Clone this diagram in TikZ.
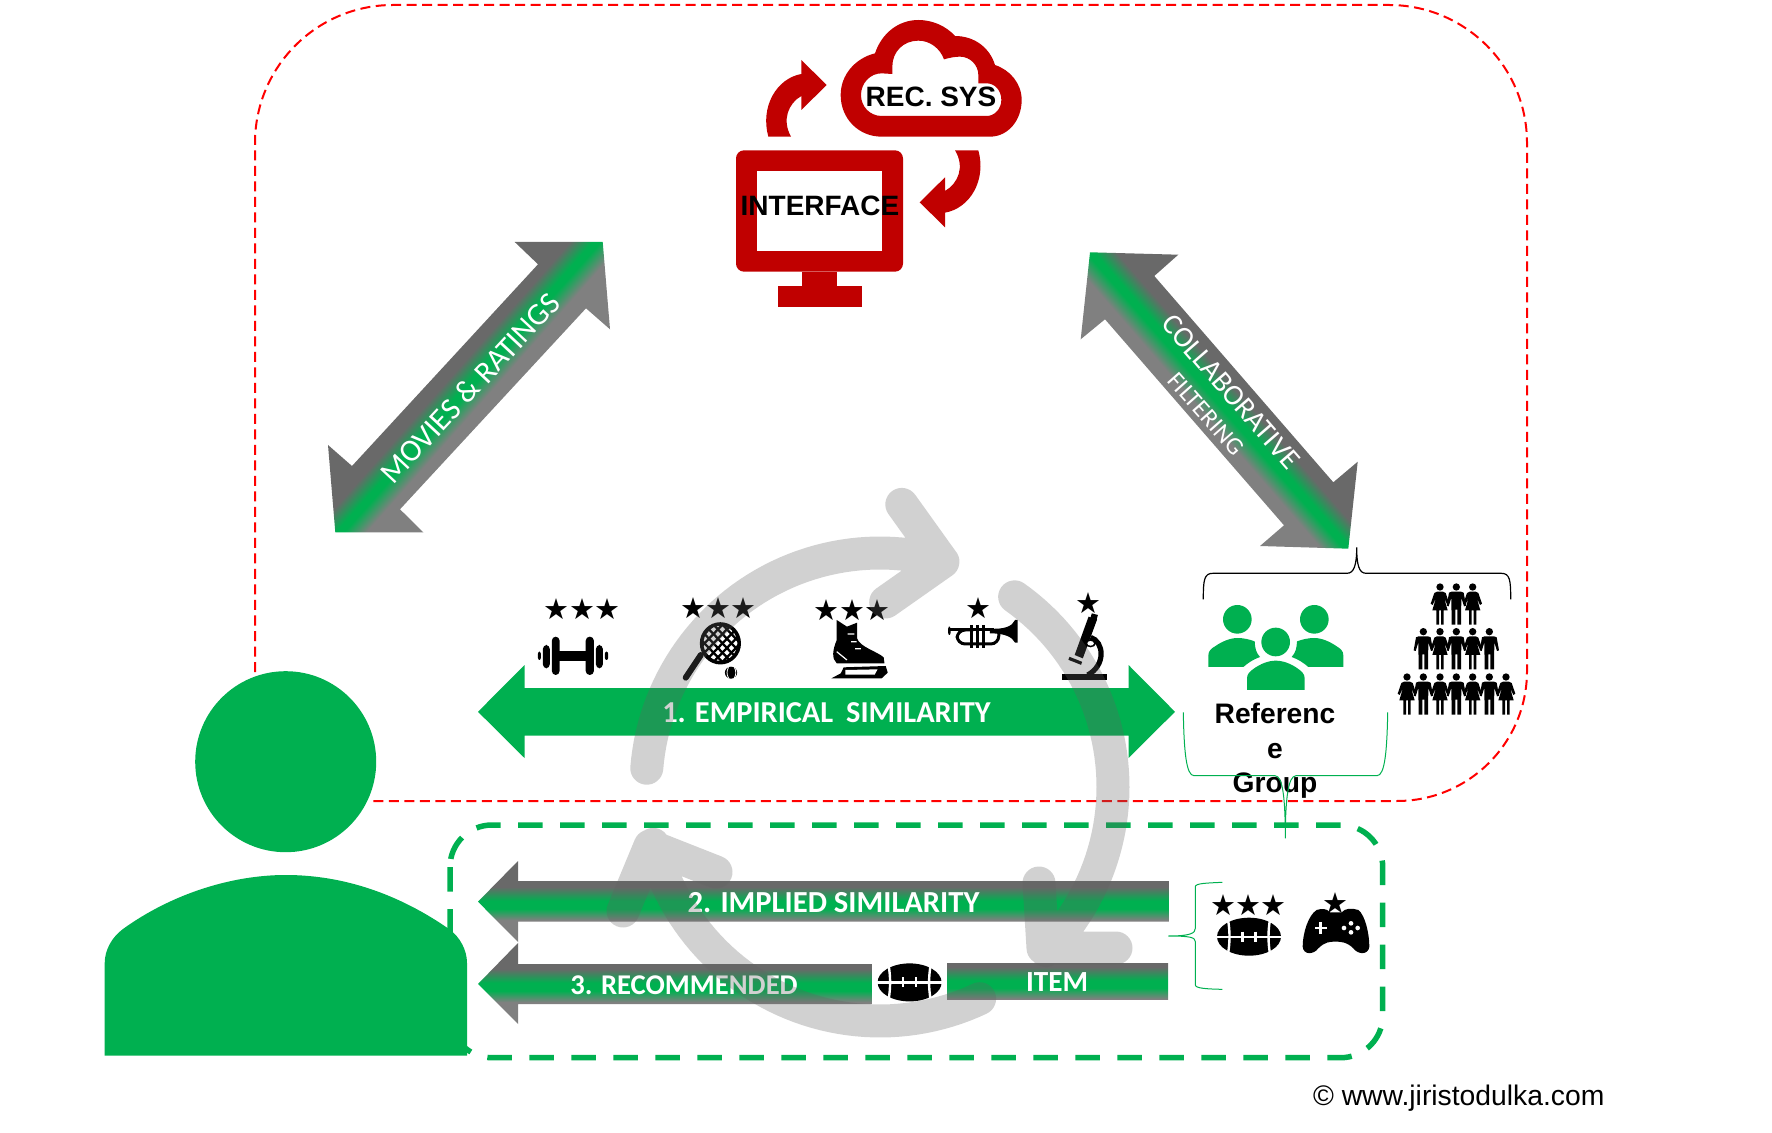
\documentclass[tikz,border=0pt]{standalone}
\usepackage{fontspec}
\setmainfont{Liberation Sans}
\newfontfamily\carlito{Carlito}
\newfontfamily\starf[LetterSpace=-3]{DejaVu Sans}
\definecolor{gg}{HTML}{00B050}
\definecolor{gd}{HTML}{696969}
\definecolor{gl}{HTML}{808080}
\definecolor{rd}{HTML}{C00000}
\definecolor{ringgray}{HTML}{626262}
\pgfdeclareverticalshading{armgrad}{100bp}{color(0bp)=(gl); color(38.5bp)=(gl); color(45.5bp)=(gg); color(50.5bp)=(gg); color(59bp)=(gd); color(100bp)=(gd)}
\pgfdeclareverticalshading{diaggrad}{100bp}{color(0bp)=(gl); color(47.5bp)=(gl); color(49.6bp)=(gg); color(50.4bp)=(gg); color(52.5bp)=(gd); color(100bp)=(gd)}
\tikzset{
  ringarrow/.style={draw=ringgray,draw opacity=.29,line width=16.5pt,line cap=round,line join=round},
  redline/.style={draw=red,line width=1pt,dash pattern=on 5pt off 2.75pt},
  greenline/.style={draw=gg,line width=2.75pt,dash pattern=on 12.25pt off 8.75pt},
  thinbrace/.style={draw=gg,line width=.5pt},
  barlabel/.style={text=white,font=\carlito\bfseries\fontsize{14.6}{16}\selectfont,inner sep=0pt},
  diaglabel/.style={text=white,inner sep=0pt},
  startext/.style={font=\starf\fontsize{14.5}{16}\selectfont,inner sep=0pt},
  boldlabel/.style={font=\bfseries\fontsize{14}{16}\selectfont,inner sep=0pt}
}
% people, in 3x-zoom units, origin at the head centre
\newcommand\manfig[2]{\begin{scope}[shift={(#1,#2)}]
 \fill (0,0) circle[radius=11];
 \fill (-14,14) -- (14,14) -- (22,17) -- (29,56) -- (23,58) -- (15,32) -- (14,113) -- (3,113) -- (3,68) -- (-3,68) -- (-3,113) -- (-14,113) -- (-15,32) -- (-23,58) -- (-29,56) -- (-22,17) -- cycle;
\end{scope}}
\newcommand\womanfig[2]{\begin{scope}[shift={(#1,#2)}]
 \fill (0,0) circle[radius=11];
 \fill (-9,14) -- (9,14) -- (17,18) -- (28,50) -- (22,54) -- (12,32) -- (23,70) -- (11,70) -- (11,113) -- (3,113) -- (3,70) -- (-3,70) -- (-3,113) -- (-11,113) -- (-11,70) -- (-23,70) -- (-12,32) -- (-22,54) -- (-28,50) -- (-17,18) -- cycle;
\end{scope}}
\newcommand\footballfig[2]{\begin{scope}[shift={(#1,#2)}]
 \fill (0,0) ellipse[x radius=32,y radius=19];
 \draw[white,line width=1.2pt] (-33,0) -- (33,0);
 \draw[white,line width=1.2pt] (-21,-17) .. controls (-19,-6) and (-19,6) .. (-21,17);
 \draw[white,line width=1.2pt] (21,-17) .. controls (19,-6) and (19,6) .. (21,17);
 \draw[white,line width=1.2pt] (-6.5,-5) -- (-6.5,5) (6.5,-5) -- (6.5,5);
\end{scope}}
\begin{document}
\begin{tikzpicture}[x=0.5pt,y=-0.5pt]
\useasboundingbox (0,0) rectangle (1772,1133);
% red dashed frame
\draw[redline,rounded corners=69pt] (255,672) -- (255,5) -- (1527,5) [rounded corners=65pt] -- (1527,801) [sharp corners] -- (368,801);
% diagonal arrows
\begin{scope}
 \clip (602.7,242) -- (610,329.3) -- (586,308.3) -- (400,509.3) -- (423.3,532.3) -- (335.3,532.3) -- (328,445) -- (352,466) -- (538,264.3) -- (514.7,242) -- cycle;
 \begin{scope}[transform canvas={shift={(468,387)},rotate=48.5}]
  \shade[shading=diaggrad] (-400,-200) rectangle (400,200);
 \end{scope}
\end{scope}
\begin{scope}
 \clip (1090,252.3) -- (1178.3,254.7) -- (1154.3,276) -- (1333.3,482.3) -- (1357.7,461.7) -- (1348.3,548.7) -- (1260,546) -- (1284,525.3) -- (1105,319.3) -- (1080.7,339.3) -- cycle;
 \begin{scope}[transform canvas={shift={(1219,400.7)},rotate=-49}]
  \shade[shading=diaggrad] (-400,-200) rectangle (400,200);
 \end{scope}
\end{scope}
\node[diaglabel,rotate=47,font=\carlito\fontsize{15.6}{18}\selectfont] (movies) at (470,388) {MOVIES \& RATINGS};
\node[diaglabel,rotate=-49,font=\carlito\fontsize{14.6}{17}\selectfont] (collab) at (1231,392) {COLLABORATIVE};
\node[diaglabel,rotate=-48.5,font=\carlito\fontsize{12.4}{14}\selectfont] (filt) at (1206,414) {FILTERING};
% monitor, cloud, red arrows (units: zoom of the top crop)
\begin{scope}[shift={(640,0)},scale=1/3]
 \fill[rd,even odd rule,rounded corners=4pt] (288,451) rectangle (789,815);
 \fill[white] (351,514) rectangle (727,753);
 \fill[rd] (487,815) rectangle (591,858);
 \fill[rd] (414,858) rectangle (665,920);
 \fill[rd,even odd rule] (725,410) -- (1050,410) .. controls (1105,410) and (1145,360) .. (1145,300) .. controls (1145,250) and (1110,210) .. (1065,195) .. controls (1050,145) and (1005,108) .. (945,108) .. controls (920,80) and (880,60) .. (835,60) .. controls (775,60) and (725,100) .. (705,160) .. controls (645,175) and (602,225) .. (602,285) .. controls (602,355) and (655,410) .. (725,410) -- cycle
 (725,348) -- (1040,348) .. controls (1065,348) and (1084,325) .. (1084,300) .. controls (1084,272) and (1065,250) .. (1040,250) -- (1015,250) -- (1015,225) .. controls (1015,195) and (990,170) .. (960,170) .. controls (945,170) and (930,173) .. (912,178) .. controls (900,145) and (870,122) .. (835,122) .. controls (790,122) and (757,155) .. (757,200) -- (757,222) -- (725,220) .. controls (690,220) and (663,250) .. (663,285) .. controls (663,320) and (690,348) .. (725,348) -- cycle;
 \fill[rd] (385,410) .. controls (360,320) and (410,235) .. (484,222) -- (484,180) -- (560,255) -- (484,330) -- (484,288) .. controls (445,310) and (425,360) .. (453,410) -- cycle;
 \fill[rd] (1015,451) .. controls (1040,540) and (990,625) .. (915,638) -- (915,682) -- (839,607) -- (915,532) -- (915,573) .. controls (955,550) and (975,500) .. (945,451) -- cycle;
\end{scope}
\node[boldlabel] (recsys) at (931,97) {REC. SYS};
\node[boldlabel] (iface) at (820,206) {INTERFACE};
% black brace
\draw[black,line width=.6pt] (1203.3,599.3) .. controls (1203.3,580) and (1204,573.3) .. (1213,573.3) -- (1347,573.3) .. controls (1354,573.3) and (1356.7,565) .. (1356.7,547.3) .. controls (1356.7,565) and (1359,573.3) .. (1366,573.3) -- (1501,573.3) .. controls (1510,573.3) and (1510.7,580) .. (1510.7,599.3);
% green group icon
\begin{scope}[shift={(1170,530)},scale=1/3]
 \fill[gg] (202,268) circle[radius=43];
 \fill[gg] (433,268) circle[radius=43];
 \fill[gg] (317,336) circle[radius=43];
 \fill[gg] (231,480) -- (231,445) .. controls (231,432) and (240,424) .. (250,417) .. controls (270,402) and (295,392) .. (317,392) .. controls (340,392) and (365,402) .. (385,417) .. controls (395,424) and (404,432) .. (404,445) -- (404,480) -- cycle;
 \fill[gg] (115,411) -- (115,376) .. controls (115,362) and (125,355) .. (135,349) .. controls (155,335) and (180,324) .. (202,324) .. controls (220,324) and (238,328) .. (254,334) .. controls (255,355) and (258,368) .. (270,381) .. controls (250,388) and (235,398) .. (220,411) -- cycle;
 \fill[gg] (520,411) -- (520,376) .. controls (520,362) and (510,355) .. (500,349) .. controls (480,335) and (455,324) .. (433,324) .. controls (415,324) and (397,328) .. (381,334) .. controls (380,355) and (377,368) .. (365,381) .. controls (385,388) and (400,398) .. (415,411) -- cycle;
 % people pyramid
 \womanfig{810}{171}\manfig{859}{171}\womanfig{908}{171}
 \manfig{760}{305}\womanfig{810}{305}\manfig{859}{305}\womanfig{908}{305}\manfig{958}{305}
 \womanfig{711}{441}\manfig{760}{441}\womanfig{810}{441}\manfig{859}{441}\womanfig{908}{441}\manfig{958}{441}\womanfig{1008}{441}
\end{scope}
\node[font=\bfseries\fontsize{14.1}{17.3}\selectfont,align=center,inner sep=0pt] (refgroup) at (1275,751) {Referenc\\e\\Group};
% green brace under the group
\draw[thinbrace] (1183.3,712.3) .. controls (1184,750) and (1186,775.7) .. (1194,775.7) -- (1275,775.7) .. controls (1283,775.7) and (1285.3,800) .. (1285.3,838.3) .. controls (1285.3,800) and (1288,775.7) .. (1296,775.7) -- (1377,775.7) .. controls (1385,775.7) and (1387,750) .. (1387.7,712.3);
% green dashed frame
\draw[greenline,rounded corners=21pt] (450,825) rectangle (1382.7,1057.7);
% arrow 1
\fill[gg] (478,711.8) -- (524.5,665) -- (524.5,688) -- (1128.5,688) -- (1128.5,665) -- (1175,711.8) -- (1128.5,758) -- (1128.5,735.7) -- (524.5,735.7) -- (524.5,758) -- cycle;
% arrows 2, 3, item
\shade[shading=armgrad] (478,901.7) -- (518,861) -- (518,881) -- (1168.8,881) -- (1168.8,921.7) -- (518,921.7) -- (518,942) -- cycle;
\shade[shading=armgrad] (478,984) -- (518,943) -- (518,964) -- (872,964) -- (872,1004) -- (518,1004) -- (518,1024) -- cycle;
\begin{scope}
 \clip (947,963) rectangle (1168,999.3);
 \shade[shading=armgrad] (947,942) rectangle (1168,1020);
\end{scope}
\node[barlabel,font=\carlito\bfseries\fontsize{15.2}{16}\selectfont] (l1) at (826.5,713) {1. EMPIRICAL\hspace{.2em} SIMILARITY};
\node[barlabel,font=\carlito\bfseries\fontsize{15.3}{16}\selectfont] (l2) at (833.5,903) {2. IMPLIED SIMILARITY};
\node[barlabel,font=\carlito\bfseries\fontsize{14.3}{16}\selectfont] (l3) at (684,985) {3. RECOMMENDED};
\node[barlabel] (l4) at (1057,982) {ITEM};
% stars
\node[startext] (s1) at (582,609) {★★★};
\node[startext] (s2) at (718.4,608) {★★★};
\node[startext] (s3) at (852,610) {★★★};
\node[startext] (s4) at (978.4,608) {★};
\node[startext] (s5) at (1088.6,603) {★};
\node[startext] (s6) at (1248.7,905) {★★★};
\node[startext] (s7) at (1335.7,903) {★};
% icons, in units of the second crop
\begin{scope}[shift={(500,580)},xscale=1/2.45,yscale=1/3]
 % dumbbell
 \fill (145,212) rectangle (212,242);
 \fill[rounded corners=2pt] (127,170) rectangle (146,285);
 \fill[rounded corners=2pt] (210,170) rectangle (230,285);
 \fill[rounded corners=2pt] (105,195) rectangle (122,265);
 \fill[rounded corners=2pt] (235,195) rectangle (252,265);
 \fill[rounded corners=1pt] (93,215) rectangle (100,240);
 \fill[rounded corners=1pt] (257,215) rectangle (265,240);
 % racket
 \draw[line width=3pt,line cap=round] (492,225) -- (455,293);
 \begin{scope}
  \fill[white] (540,190) ellipse[x radius=46,y radius=58];
  \clip (540,190) ellipse[x radius=46,y radius=58];
  \foreach \k in {-100,-78,...,120} {
   \draw[line width=1.15pt] (480+\k,120) -- (590+\k,260);
   \draw[line width=1.15pt] (480+\k,260) -- (590+\k,120);
  }
 \end{scope}
 \draw[line width=1.8pt] (540,190) ellipse[x radius=46,y radius=58];
 \fill (566,278) ellipse[x radius=15,y radius=18];
 \draw[white,line width=.4pt] (560,262) .. controls (555,272) and (555,284) .. (560,294) (574,262) .. controls (579,272) and (579,284) .. (574,294);
 % skate
 \fill (825,120) -- (850,140) -- (875,128) -- (875,175) .. controls (880,200) and (925,215) .. (940,232) -- (942,250) -- (825,250) .. controls (812,235) and (815,210) .. (825,180) -- cycle;
 \draw[white,line width=.6pt] (825,215) -- (850,240) (852,162) -- (868,162) (860,185) -- (874,185) (870,206) -- (884,206);
 \fill (842,262) -- (945,258) -- (950,278) -- (935,295) -- (812,295) -- (835,280) -- cycle;
 \fill[white] (846,270) -- (925,268) -- (918,284) -- (846,284) -- cycle;
 % trumpet
 \draw[line width=1.5pt] (1100,150) -- (1210,150);
 \draw[line width=1.5pt,rounded corners=4pt] (1160,150) -- (1120,150) -- (1120,192) -- (1222,192) -- (1222,150);
 \draw[line width=1.5pt] (1155,135) -- (1155,205) (1170,135) -- (1170,205) (1185,135) -- (1185,205);
 \fill[rounded corners=1pt] (1098,140) rectangle (1104,165);
 \fill (1200,146) .. controls (1235,148) and (1255,140) .. (1262,120) -- (1268,120) -- (1268,188) -- (1262,188) .. controls (1255,170) and (1235,160) .. (1200,160) -- cycle;
 % microscope
 \fill (1378,282) rectangle (1487,300);
 \draw[line width=2.6pt] (1447,172) .. controls (1480,185) and (1485,255) .. (1440,285);
 \fill (1442,110) -- (1463,118) -- (1428,235) -- (1408,225) -- cycle;
 \fill (1450,100) -- (1465,105) -- (1460,125) -- (1445,120) -- cycle;
 \fill[black] (1447,190) ellipse[x radius=13,y radius=12];
 \fill[white] (1447,190) ellipse[x radius=8,y radius=7];
 \draw[line width=1.6pt] (1394,235) -- (1425,250);
\end{scope}
% footballs
\fill[white] (872,960) rectangle (947,1006);
\footballfig{909.6}{982.4}
\footballfig{1249}{936.7}
% gamepad, item brace
\begin{scope}[shift={(1150,860)},scale=1/3]
 \fill (500,150) .. controls (515,145) and (530,145) .. (540,157) -- (575,157) .. controls (585,145) and (605,143) .. (625,150) .. controls (645,165) and (658,220) .. (658,260) .. controls (655,285) and (625,285) .. (610,265) .. controls (590,245) and (570,245) .. (557,245) .. controls (540,245) and (525,245) .. (505,265) .. controls (490,285) and (460,285) .. (458,260) .. controls (458,220) and (475,165) .. (500,150) -- cycle;
 \fill[white] (494,200) rectangle (530,208);
 \fill[white] (508,186) rectangle (516,222);
 \fill[white] (603,190) circle[radius=7] (582,204) circle[radius=7] (623,204) circle[radius=7] (603,217) circle[radius=7];
 \draw[thinbrace] (217,67) .. controls (170,69) and (136,70) .. (136,80) -- (136,205) .. controls (136,220) and (120,228) .. (55,228) .. controls (120,228) and (136,232) .. (136,245) -- (136,375) .. controls (136,385) and (170,387) .. (217,388);
\end{scope}
% person
\fill[gg] (285.7,761.7) circle[radius=90.5];
\fill[gg] (104.7,1055.7) -- (104.7,963) .. controls (104.7,950) and (112,937) .. (123,929) .. controls (170,895) and (230,875) .. (285.7,875) .. controls (345,875) and (400,895) .. (449,929) .. controls (460,937) and (467,950) .. (467,963) -- (467,1055.7) -- cycle;
% grey cycle arrows
\draw[ringarrow] plot[domain=175.4:74.4,samples=50] ({880+234*cos(\x)},{787-234*sin(\x)}) (901.8,504.4) -- (942.9,561.8) -- (885.7,602);
\draw[ringarrow] plot[domain=54.7:-44.6,samples=50] ({880+233*cos(\x)},{787-233*sin(\x)}) (1039,883) -- (1043,948) -- (1116,948);
\draw[ringarrow] plot[domain=-64.8:-165.8,samples=50] ({880+234*cos(\x)},{787-234*sin(\x)}) (716,872) -- (650,846) -- (623,911);
% credit
\node[anchor=base west,inner sep=0pt,font=\fontsize{14.15}{16}\selectfont] (credit) at (1312.7,1105) {© www.jiristodulka.com};
\end{tikzpicture}
\end{document}
